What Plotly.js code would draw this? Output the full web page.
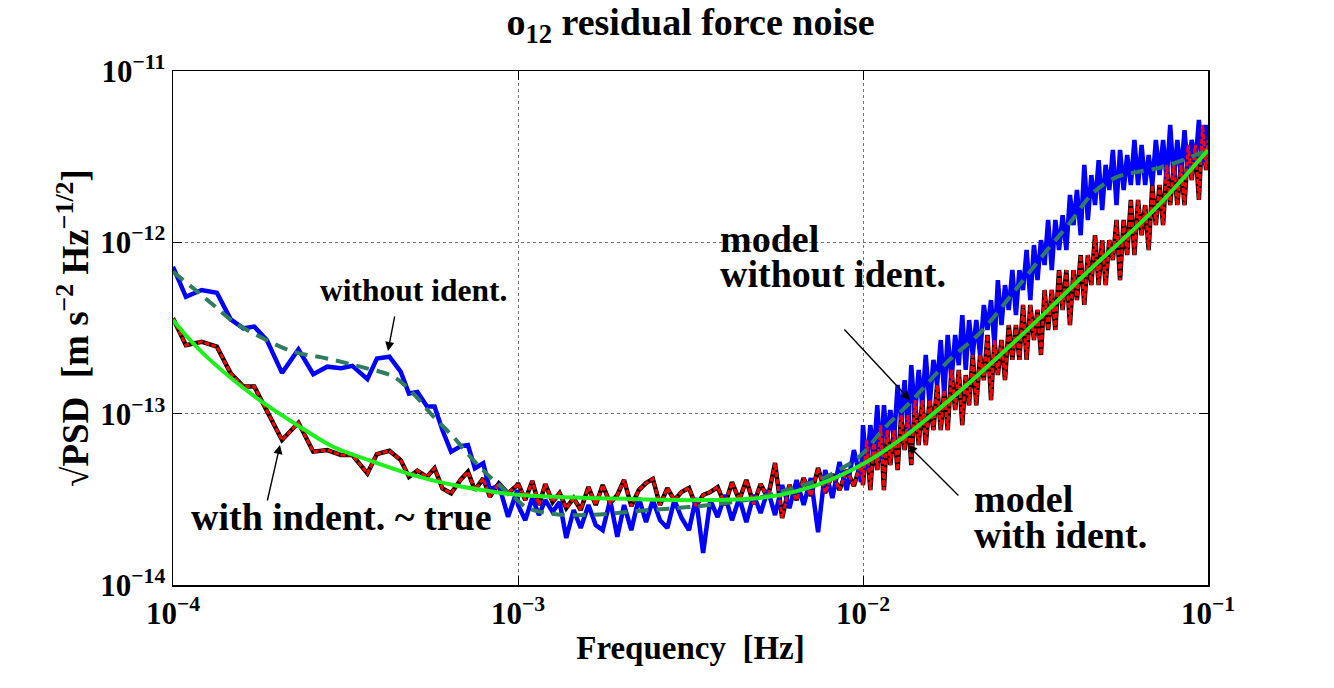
<!DOCTYPE html>
<html>
<head>
<meta charset="utf-8">
<script src="https://cdn.plot.ly/plotly-3.0.1.min.js"></script>
<style>
  html, body { margin: 0; padding: 0; background: #fff; }
  #plot { width: 1334px; height: 688px; }
</style>
</head>
<body>
<div id="plot"></div>
<script>
// Frequency grid of the measured spectra [Hz]
let freq = [
  // 1e-4 .. 1e-3
  1.0e-4, 1.09e-4, 1.21e-4, 1.34e-4, 1.47e-4, 1.6e-4, 1.72e-4, 1.87e-4, 2.07e-4, 2.31e-4,
  2.55e-4, 2.8e-4, 3.07e-4, 3.31e-4, 3.66e-4, 3.9e-4, 4.24e-4, 4.57e-4, 4.83e-4, 5.11e-4,
  5.45e-4, 5.73e-4, 6.04e-4, 6.4e-4, 6.83e-4, 7.16e-4, 7.5e-4, 7.93e-4, 8.29e-4, 8.8e-4,
  9.36e-4, 9.95e-4,
  // 1e-3 .. 1e-2
  1.00e-3, 1.05e-3, 1.10e-3, 1.15e-3, 1.20e-3, 1.26e-3, 1.32e-3, 1.38e-3, 1.45e-3, 1.52e-3,
  1.60e-3, 1.68e-3, 1.76e-3, 1.85e-3, 1.94e-3, 2.03e-3, 2.13e-3, 2.24e-3, 2.35e-3, 2.46e-3,
  2.58e-3, 2.71e-3, 2.84e-3, 2.98e-3, 3.13e-3, 3.28e-3, 3.44e-3, 3.61e-3, 3.79e-3, 3.98e-3,
  4.17e-3, 4.38e-3, 4.59e-3, 4.82e-3, 5.05e-3, 5.30e-3, 5.56e-3, 5.83e-3, 6.12e-3, 6.42e-3,
  6.73e-3, 7.06e-3, 7.41e-3, 7.77e-3, 8.15e-3, 8.55e-3, 8.97e-3, 9.41e-3, 9.87e-3,
  // 1e-2 .. 1e-1
  1.00e-2, 1.025e-2, 1.05e-2, 1.075e-2, 1.10e-2, 1.125e-2, 1.15e-2, 1.175e-2, 1.20e-2, 1.23e-2,
  1.26e-2, 1.29e-2, 1.32e-2, 1.35e-2, 1.38e-2, 1.415e-2, 1.45e-2, 1.485e-2, 1.52e-2, 1.56e-2,
  1.60e-2, 1.64e-2, 1.68e-2, 1.72e-2, 1.76e-2, 1.805e-2, 1.85e-2, 1.895e-2, 1.94e-2, 1.985e-2,
  2.03e-2, 2.08e-2, 2.13e-2, 2.185e-2, 2.24e-2, 2.295e-2, 2.35e-2, 2.405e-2, 2.46e-2, 2.52e-2,
  2.58e-2, 2.645e-2, 2.71e-2, 2.775e-2, 2.84e-2, 2.91e-2, 2.98e-2, 3.055e-2, 3.13e-2, 3.205e-2,
  3.28e-2, 3.36e-2, 3.44e-2, 3.525e-2, 3.61e-2, 3.70e-2, 3.79e-2, 3.885e-2, 3.98e-2, 4.075e-2,
  4.17e-2, 4.275e-2, 4.38e-2, 4.485e-2, 4.59e-2, 4.705e-2, 4.82e-2, 4.935e-2, 5.05e-2, 5.175e-2,
  5.30e-2, 5.43e-2, 5.56e-2, 5.695e-2, 5.83e-2, 5.975e-2, 6.12e-2, 6.27e-2, 6.42e-2, 6.575e-2,
  6.73e-2, 6.895e-2, 7.06e-2, 7.235e-2, 7.41e-2, 7.59e-2, 7.77e-2, 7.96e-2, 8.15e-2, 8.35e-2,
  8.55e-2, 8.76e-2, 8.97e-2, 9.19e-2, 9.41e-2, 9.64e-2, 9.87e-2, 1.0e-1
];

// sqrt(PSD) without identification (blue)
let psdWithout = [
  7.2e-13, 4.81e-13, 5.27e-13, 5.08e-13, 3.55e-13, 3.15e-13, 3.22e-13, 2.69e-13, 1.73e-13, 2.37e-13,
  1.70e-13, 1.88e-13, 1.84e-13, 1.90e-13, 1.59e-13, 2.10e-13, 2.15e-13, 1.76e-13, 1.31e-13, 1.34e-13,
  1.10e-13, 1.10e-13, 8.0e-14, 6.0e-14, 6.47e-14, 6.56e-14, 4.8e-14, 5.13e-14, 3.6e-14, 3.83e-14,
  2.5e-14, 3.58e-14,
  2.93e-14, 2.39e-14, 3.22e-14, 2.56e-14, 3.13e-14, 2.67e-14, 3.05e-14, 1.88e-14, 2.74e-14, 2.15e-14,
  2.93e-14, 2.24e-14, 2.09e-14, 3.13e-14, 1.91e-14, 2.93e-14, 2.09e-14, 3.22e-14, 2.33e-14, 3.13e-14,
  2.39e-14, 2.15e-14, 3.13e-14, 2.46e-14, 2.09e-14, 3.22e-14, 1.54e-14, 3.13e-14, 2.49e-14, 3.35e-14,
  2.39e-14, 3.22e-14, 2.33e-14, 3.35e-14, 2.63e-14, 3.58e-14, 2.56e-14, 3.83e-14, 2.81e-14, 4.10e-14,
  2.93e-14, 4.21e-14, 2.03e-14, 4.69e-14, 3.22e-14, 5.22e-14, 3.58e-14, 6.13e-14, 3.99e-14,
  8.58e-14, 4.69e-14, 8.58e-14, 5.73e-14, 1.12e-13, 5.36e-14, 1.12e-13, 7.02e-14, 1.05e-13, 7.02e-14,
  1.47e-13, 9.18e-14, 1.57e-13, 7.50e-14, 1.92e-13, 9.81e-14, 1.80e-13, 1.12e-13, 2.20e-13, 1.12e-13,
  2.06e-13, 1.47e-13, 2.69e-13, 1.28e-13, 2.88e-13, 1.57e-13, 2.88e-13, 1.92e-13, 3.76e-13, 1.80e-13,
  3.52e-13, 2.20e-13, 3.52e-13, 2.20e-13, 4.31e-13, 3.08e-13, 4.60e-13, 2.51e-13, 6.02e-13, 3.29e-13,
  5.63e-13, 4.03e-13, 6.89e-13, 3.76e-13, 6.89e-13, 5.27e-13, 9.02e-13, 4.60e-13, 9.64e-13, 6.02e-13,
  1.03e-12, 7.37e-13, 1.35e-12, 6.89e-13, 1.35e-12, 9.02e-13, 1.44e-12, 9.02e-13, 1.89e-12, 1.26e-12,
  2.02e-12, 1.10e-12, 2.83e-12, 1.35e-12, 2.47e-12, 1.65e-12, 3.02e-12, 1.54e-12, 2.83e-12, 2.02e-12,
  3.46e-12, 1.65e-12, 3.46e-12, 2.02e-12, 3.23e-12, 2.16e-12, 3.96e-12, 2.16e-12, 3.70e-12, 2.16e-12,
  3.23e-12, 2.16e-12, 3.96e-12, 2.47e-12, 3.96e-12, 2.31e-12, 4.84e-12, 2.31e-12, 3.96e-12, 2.47e-12,
  4.52e-12, 2.47e-12, 3.96e-12, 2.83e-12, 5.18e-12, 2.83e-12, 4.84e-12, 3.02e-12
];

// sqrt(PSD) with identification ~ true (black, red dashed on top)
let psdWith = [
  3.60e-13, 2.51e-13, 2.63e-13, 2.46e-13, 1.72e-13, 1.44e-13, 1.44e-13, 1.05e-13, 7.02e-14, 8.85e-14,
  6.0e-14, 6.13e-14, 5.73e-14, 5.73e-14, 4.48e-14, 5.81e-14, 6.07e-14, 5.36e-14, 4.28e-14, 4.65e-14,
  4.28e-14, 4.80e-14, 3.66e-14, 3.43e-14, 4.13e-14, 4.58e-14, 3.58e-14, 4.19e-14, 3.27e-14, 3.92e-14,
  3.43e-14, 3.83e-14,
  3.93e-14, 3.13e-14, 4.05e-14, 2.93e-14, 3.88e-14, 3.05e-14, 3.44e-14, 2.81e-14, 3.22e-14, 2.74e-14,
  3.73e-14, 2.93e-14, 3.83e-14, 3.01e-14, 3.35e-14, 4.10e-14, 2.89e-14, 3.58e-14, 3.93e-14, 4.16e-14,
  2.93e-14, 3.68e-14, 3.13e-14, 3.49e-14, 3.68e-14, 2.89e-14, 3.35e-14, 3.49e-14, 3.73e-14, 2.93e-14,
  3.99e-14, 3.13e-14, 4.10e-14, 2.97e-14, 3.88e-14, 3.22e-14, 5.15e-14, 2.46e-14, 3.83e-14, 3.13e-14,
  4.21e-14, 3.31e-14, 4.82e-14, 3.44e-14, 4.44e-14, 3.58e-14, 4.69e-14, 3.78e-14, 5.22e-14,
  3.83e-14, 7.02e-14, 3.58e-14, 7.02e-14, 4.69e-14, 8.58e-14, 3.58e-14, 8.02e-14, 5.01e-14, 8.02e-14,
  4.69e-14, 9.81e-14, 6.13e-14, 9.81e-14, 5.01e-14, 1.20e-13, 6.56e-14, 1.20e-13, 6.56e-14, 1.20e-13,
  8.02e-14, 1.47e-13, 8.02e-14, 1.37e-13, 8.02e-14, 1.80e-13, 1.05e-13, 1.80e-13, 8.58e-14, 1.68e-13,
  1.12e-13, 2.20e-13, 1.12e-13, 2.20e-13, 1.57e-13, 2.88e-13, 1.20e-13, 2.69e-13, 1.68e-13, 2.69e-13,
  1.57e-13, 3.29e-13, 2.06e-13, 3.29e-13, 2.06e-13, 4.31e-13, 2.06e-13, 4.31e-13, 2.69e-13, 4.03e-13,
  2.20e-13, 5.27e-13, 3.08e-13, 5.27e-13, 3.08e-13, 6.89e-13, 4.03e-13, 6.89e-13, 3.29e-13, 6.89e-13,
  4.60e-13, 8.43e-13, 4.31e-13, 8.43e-13, 5.63e-13, 1.10e-12, 5.63e-13, 1.03e-12, 5.63e-13, 1.03e-12,
  7.88e-13, 1.35e-12, 6.02e-13, 1.35e-12, 8.43e-13, 1.77e-12, 8.43e-13, 1.77e-12, 1.10e-12, 1.65e-12,
  9.02e-13, 2.16e-12, 1.26e-12, 2.16e-12, 1.26e-12, 2.83e-12, 1.65e-12, 2.83e-12, 1.65e-12, 2.83e-12,
  1.65e-12, 3.70e-12, 2.31e-12, 3.70e-12, 1.77e-12, 4.84e-12, 2.64e-12, 3.96e-12
];

// model without identification (dashed green)
let fModelWithout = [
  1.0e-4, 1.145e-4, 1.309e-4, 1.496e-4, 1.787e-4, 2.233e-4, 2.79e-4, 3.49e-4, 4.36e-4, 4.97e-4,
  5.69e-4, 6.49e-4, 7.42e-4, 8.48e-4, 9.70e-4, 1.068e-3, 1.29e-3, 1.59e-3, 1.94e-3, 2.40e-3,
  2.93e-3, 3.58e-3, 4.58e-3, 5.34e-3, 6.39e-3, 7.45e-3, 8.51e-3, 9.73e-3, 1.14e-2, 1.39e-2,
  1.78e-2, 2.18e-2, 2.72e-2, 3.42e-2, 3.98e-2, 4.64e-2, 5.43e-2, 6.20e-2, 7.23e-2, 8.44e-2, 1.0e-1
];
let modelWithout = [
  6.73e-13, 5.39e-13, 4.31e-13, 3.44e-13, 2.81e-13, 2.30e-13, 2.10e-13, 1.88e-13, 1.64e-13, 1.31e-13,
  9.6e-14, 7.33e-14, 5.36e-14, 4.10e-14, 3.27e-14, 2.81e-14, 2.59e-14, 2.56e-14, 2.63e-14, 2.74e-14,
  2.82e-14, 2.93e-14, 3.13e-14, 3.35e-14, 3.73e-14, 4.10e-14, 4.69e-14, 5.58e-14, 8.02e-14, 1.20e-13,
  2.06e-13, 2.95e-13, 5.06e-13, 9.02e-13, 1.30e-12, 1.94e-12, 2.40e-12, 2.57e-12, 2.72e-12, 3.02e-12, 3.46e-12
];

// model with identification (bright green)
let fModelWith = [
  1.0e-4, 1.145e-4, 1.28e-4, 1.56e-4, 1.87e-4, 2.33e-4, 2.91e-4, 3.81e-4, 4.97e-4, 6.49e-4,
  8.48e-4, 1.01e-3, 1.73e-3, 3.37e-3, 5.27e-3, 7.34e-3, 1.0e-2, 1.28e-2, 1.78e-2, 2.48e-2,
  3.25e-2, 4.44e-2, 6.96e-2, 1.0e-1
];
let modelWith = [
  3.52e-13, 2.57e-13, 2.06e-13, 1.47e-13, 1.12e-13, 8.39e-14, 6.41e-14, 5.24e-14, 4.38e-14, 3.83e-14,
  3.50e-14, 3.35e-14, 3.21e-14, 3.13e-14, 3.26e-14, 3.83e-14, 5.08e-14, 7.02e-14, 1.20e-13, 2.17e-13,
  3.61e-13, 6.62e-13, 1.54e-12, 3.46e-12
];

let xTicks = [1e-4, 1e-3, 1e-2, 1e-1];
let xTickText = ["10<sup>\u22124</sup>", "10<sup>\u22123</sup>", "10<sup>\u22122</sup>", "10<sup>\u22121</sup>"];
let yTicks = [1e-14, 1e-13, 1e-12, 1e-11];
let yTickText = ["10<sup>\u221214</sup>", "10<sup>\u221213</sup>", "10<sup>\u221212</sup>", "10<sup>\u221211</sup>"];

let serif = "Liberation Serif, Times New Roman, serif";
function boldSerif(size) {
  return {family: serif, size: size, color: "#000", weight: "bold"};
}

let traceTrue = {
  x: freq, y: psdWith, type: "scatter", mode: "lines",
  line: {color: "#000000", width: 4.5}, hoverinfo: "skip"
};
let traceWithout = {
  x: freq, y: psdWithout, type: "scatter", mode: "lines",
  line: {color: "#0000ff", width: 4.5}, hoverinfo: "skip"
};
let traceWith = {
  x: freq, y: psdWith, type: "scatter", mode: "lines",
  line: {color: "#ff0000", width: 3, dash: "5px,2px"}, hoverinfo: "skip"
};
let traceModelWithout = {
  x: fModelWithout, y: modelWithout, type: "scatter", mode: "lines",
  line: {color: "#2e7d5e", width: 4, dash: "13px,8px", shape: "spline", smoothing: 1}, hoverinfo: "skip"
};
let traceModelWith = {
  x: fModelWith, y: modelWith, type: "scatter", mode: "lines",
  line: {color: "#1ef01e", width: 4, shape: "spline", smoothing: 1}, hoverinfo: "skip"
};

let data = [traceTrue, traceWithout, traceWith, traceModelWithout, traceModelWith];

function label(text, x, y, size) {
  return {xref: "paper", yref: "paper", x: x, y: y, xanchor: "left", yanchor: "middle",
          text: text, showarrow: false, font: boldSerif(size)};
}
function arrow(x, y, ax, ay) {
  return {xref: "paper", yref: "paper", x: x, y: y, ax: ax, ay: ay, text: "",
          showarrow: true, arrowhead: 2, arrowsize: 1.3, arrowwidth: 1.4, arrowcolor: "#000"};
}

let layout = {
  width: 1334,
  height: 688,
  paper_bgcolor: "#fff",
  plot_bgcolor: "#fff",
  showlegend: false,
  margin: {l: 173, r: 126, t: 71, b: 103},
  title: {
    text: "o<sub>12</sub> residual force noise",
    font: boldSerif(38),
    x: 0.5, xref: "paper", y: 0.988, yanchor: "top"
  },
  xaxis: {
    type: "log", range: [-4, -1],
    tickmode: "array", tickvals: xTicks, ticktext: xTickText,
    ticks: "inside", ticklen: 9, tickcolor: "#000",
    showline: true, linecolor: "#000", linewidth: 1.5, mirror: "ticks",
    showgrid: true, gridcolor: "#777", griddash: "dot", gridwidth: 1,
    zeroline: false,
    tickfont: boldSerif(31),
    title: {text: "Frequency  [Hz]", font: boldSerif(33), standoff: 6}
  },
  yaxis: {
    type: "log", range: [-14, -11],
    tickmode: "array", tickvals: yTicks, ticktext: yTickText,
    ticks: "inside", ticklen: 9, tickcolor: "#000",
    showline: true, linecolor: "#000", linewidth: 1.5, mirror: "ticks",
    showgrid: true, gridcolor: "#777", griddash: "dot", gridwidth: 1,
    zeroline: false,
    tickfont: boldSerif(31),
    title: {text: "\u221APSD  [m s<sup>\u22122</sup> Hz<sup>\u22121/2</sup>]", font: boldSerif(37), standoff: 0}
  },
  annotations: [
    label("without ident.", 0.1401, 0.572, 31.5),
    label("with indent. ~ true", 0.0155, 0.1323, 38),
    label("model", 0.5266, 0.6732, 38),
    label("without ident.", 0.5266, 0.605, 38),
    label("model", 0.772, 0.1673, 38),
    label("with ident.", 0.772, 0.0973, 38),
    arrow(0.2077, 0.4553, 7, -36),
    arrow(0.1034, 0.2724, -13, 57),
    arrow(0.7121, 0.3599, -67, -72),
    arrow(0.7101, 0.2724, 52, 52)
  ]
};

Plotly.newPlot("plot", data, layout, {displayModeBar: false, staticPlot: true});
</script>
</body>
</html>
